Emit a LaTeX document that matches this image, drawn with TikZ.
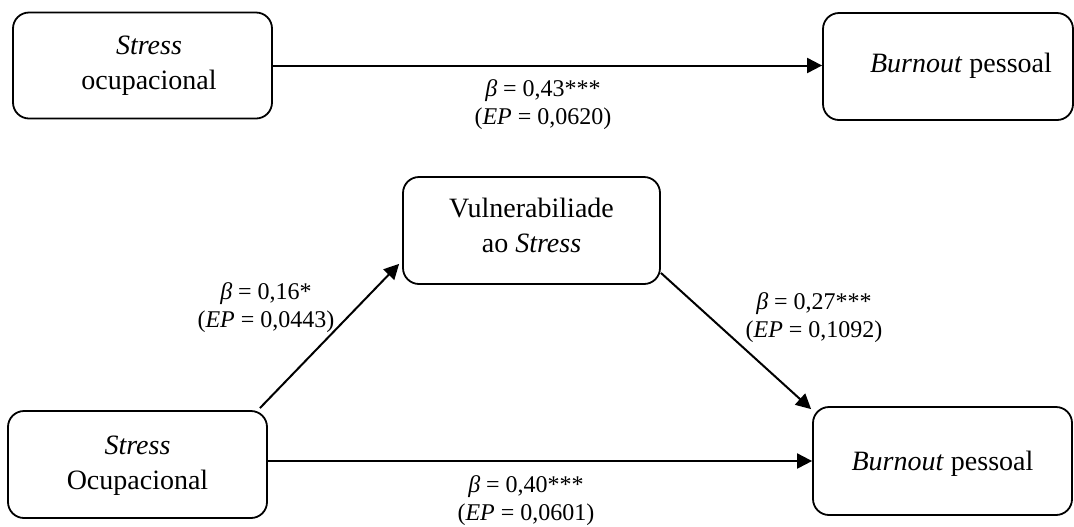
\documentclass[tikz,border=0pt]{standalone}
\usepackage{fontspec}
\setmainfont{Liberation Serif}
\usetikzlibrary{arrows.meta,calc}
\begin{document}
\begin{tikzpicture}[x=0.5pt,y=-0.5pt,
  box/.style={draw, line width=0.9pt, rounded corners=8pt, inner sep=0pt},
  boxtext/.style={align=center, inner sep=0pt, font=\fontsize{14}{17.5}\selectfont},
  coef/.style={align=center, inner sep=0pt, font=\fontsize{12}{14}\selectfont},
  link/.style={line width=1pt, -{Triangle[length=7.5pt,width=7.5pt]}}]
\useasboundingbox (0,0) rectangle (1074,526);
\fill[white] (0,0) rectangle (1074,526);

% boxes
\node[box, minimum width=129.5pt, minimum height=53pt] (b1) at (142.5,65.5) {};
\node[box, minimum width=125pt, minimum height=53.5pt] (b2) at (948,66.5) {};
\node[box, minimum width=128.5pt, minimum height=53.5pt] (b3) at (531.5,230.5) {};
\node[box, minimum width=129.5pt, minimum height=53.5pt] (b4) at (137.5,464.5) {};
\node[box, minimum width=129.5pt, minimum height=54pt] (b5) at (942.5,461) {};

% box texts
\node[boxtext] (t1) at (149,66) {\textit{Stress}\\ocupacional};
\node[boxtext, anchor=base] (t2) at (961,72) {\textit{Burnout} pessoal};
\node[boxtext] (t3) at (531.5,225) {Vulnerabiliade\\ao \textit{Stress}};
\node[boxtext] (t4) at (137.5,466) {\textit{Stress}\\Ocupacional};
\node[boxtext, anchor=base] (t5) at (942.5,470) {\textit{Burnout} pessoal};

% connectors
\draw[link] (b1.east) -- (b1.east -| b2.west);
\draw[link] (b4.east |- b5.west) -- (b5.west);
\draw[link] ($(b4.north east)+(-8,-2)$) -- ($(b3.south west)+(-3,-21)$);
\draw[link] ($(b3.south east)+(0,-12)$) -- ($(b5.north west)+(-1,3)$);

% coefficients
\node[coef] (c1) at (543,105) {\textit{β} = 0,43***\\(\textit{EP} = 0,0620)};
\node[coef] (c2) at (266,307.5) {\textit{β} = 0,16*\\(\textit{EP} = 0,0443)};
\node[coef] (c3) at (814,317.5) {\textit{β} = 0,27***\\(\textit{EP} = 0,1092)};
\node[coef] (c4) at (526,501) {\textit{β} = 0,40***\\(\textit{EP} = 0,0601)};
\end{tikzpicture}
\end{document}
